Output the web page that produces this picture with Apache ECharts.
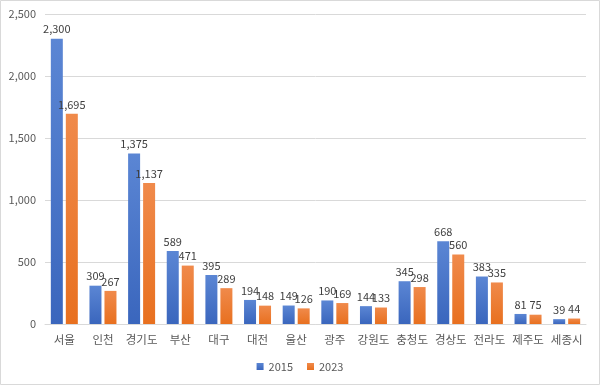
<!DOCTYPE html>
<html><head><meta charset="utf-8">
<script src="https://cdn.jsdelivr.net/npm/echarts@6/dist/echarts.min.js"></script>
<style>html,body{margin:0;padding:0;background:#fff}#c{width:600px;height:385px}</style>
</head><body><div id="c"></div>
<script>
const categories = ['서울','인천','경기도','부산','대구','대전','울산','광주','강원도','충청도','경상도','전라도','제주도','세종시'];
const values2015 = [2300,309,1375,589,395,194,149,190,144,345,668,383,81,39];
const values2023 = [1695,267,1137,471,289,148,126,169,133,298,560,335,75,44];
const yTicks = {min:0, max:2500, interval:500};

const font = '"Noto Sans CJK KR", "Noto Sans", sans-serif';
function grad(top, bottom){
  return new echarts.graphic.LinearGradient(0,0,0,1,[{offset:0,color:top},{offset:1,color:bottom}]);
}
const chart = echarts.init(document.getElementById('c'));
chart.setOption({
  animation:false,
  graphic:[{type:'rect',shape:{x:0.5,y:0.5,width:599,height:384},style:{fill:'none',stroke:'#d9d9d9',lineWidth:1},silent:true}],
  grid:{left:45,right:14,top:14,bottom:61},
  legend:{bottom:8,left:'center',itemWidth:7,itemHeight:7,itemGap:14,icon:'rect',
    textStyle:{color:'#595959',fontSize:11,fontFamily:font}},
  xAxis:{type:'category',data:categories,
    axisLine:{lineStyle:{color:'#d9d9d9'}},axisTick:{show:false},
    axisLabel:{interval:0,color:'#595959',fontSize:11.5,fontFamily:font,margin:10}},
  yAxis:{type:'value',min:yTicks.min,max:yTicks.max,interval:yTicks.interval,
    axisLine:{show:false},axisTick:{show:false},
    splitLine:{lineStyle:{color:'#d9d9d9'}},
    axisLabel:{color:'#595959',fontSize:11,fontFamily:font,margin:9,
      formatter:v=>v.toLocaleString('en-US')}},
  series:[
    {name:'2015',type:'bar',data:values2015,barWidth:12,barGap:'25%',
      itemStyle:{color:grad('#5b86d4','#3a66bd')},
      label:{show:true,position:'top',color:'#404040',fontSize:11,fontFamily:font,distance:4,
        formatter:p=>p.value.toLocaleString('en-US')}},
    {name:'2023',type:'bar',data:values2023,barWidth:12,
      itemStyle:{color:grad('#f08a4b','#e8701f')},
      label:{show:true,position:'top',color:'#404040',fontSize:11,fontFamily:font,distance:4,
        formatter:p=>p.value.toLocaleString('en-US')}}
  ],
  color:['#4472c4','#ed7d31']
});
</script></body></html>
